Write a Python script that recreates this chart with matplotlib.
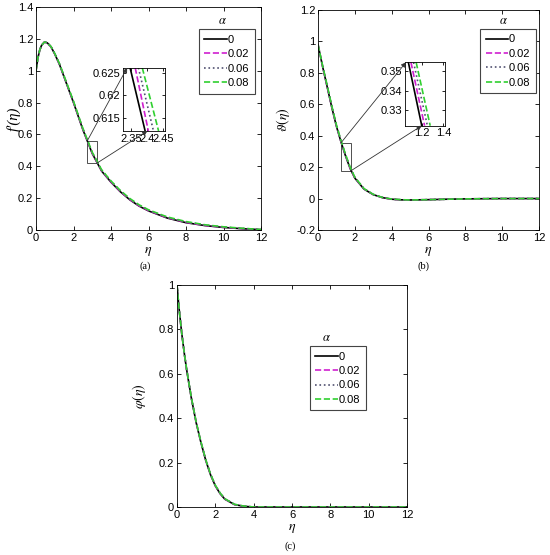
import matplotlib.pyplot as plt
from matplotlib.patches import Rectangle, ConnectionPatch
from matplotlib.ticker import FuncFormatter

plt.rcParams['font.family'] = ['Liberation Sans', 'DejaVu Sans']
plt.rcParams['mathtext.fontset'] = 'stix'
plt.rcParams['axes.unicode_minus'] = False

# legend entries / styles
alphas = ['0', '0.02', '0.06', '0.08']
colors = ['black', '#d020d0', '#505070', '#30d030']
styles = ['-', '--', ':', '--']

# (a) velocity f'(eta)
eta_a = [0, 0.1, 0.2, 0.3, 0.45, 0.6, 0.8, 1.0, 1.25, 1.5, 1.75, 2.0, 2.5, 3.0, 3.5,
         4.0, 4.5, 5.0, 5.5, 6.0, 7.0, 8.0, 9.0, 10.0, 11.0, 12.0]
fp_0 = [1.0, 1.08, 1.13, 1.16, 1.18, 1.175, 1.15, 1.105, 1.04, 0.96, 0.88, 0.80, 0.63, 0.48, 0.37,
        0.30, 0.24, 0.19, 0.15, 0.12, 0.075, 0.046, 0.028, 0.016, 0.008, 0.002]
fp_1 = [1.0, 1.08, 1.13, 1.16, 1.18, 1.175, 1.15, 1.106, 1.041, 0.962, 0.882, 0.802, 0.632, 0.482, 0.372,
        0.302, 0.242, 0.192, 0.152, 0.122, 0.077, 0.048, 0.029, 0.017, 0.009, 0.002]
fp_2 = [1.0, 1.08, 1.13, 1.16, 1.18, 1.176, 1.151, 1.107, 1.043, 0.964, 0.884, 0.805, 0.635, 0.485, 0.375,
        0.305, 0.245, 0.195, 0.155, 0.124, 0.079, 0.050, 0.031, 0.018, 0.010, 0.003]
fp_3 = [1.0, 1.08, 1.13, 1.16, 1.18, 1.176, 1.152, 1.108, 1.045, 0.966, 0.887, 0.808, 0.638, 0.488, 0.378,
        0.308, 0.248, 0.198, 0.158, 0.127, 0.082, 0.053, 0.033, 0.020, 0.011, 0.003]

# (a) zoom-in
ins_a_y = [0.6262, 0.612]
ins_a_x0 = [2.346, 2.393]
ins_a_x1 = [2.362, 2.403]
ins_a_x2 = [2.372, 2.419]
ins_a_x3 = [2.384, 2.435]

# (b) temperature theta(eta)
eta_b = [0, 0.25, 0.5, 0.75, 1.0, 1.25, 1.5, 1.75, 2.0, 2.5, 3.0, 3.5, 4.0, 4.5, 5.0,
         6.0, 7.0, 8.0, 10.0, 12.0]
th_0 = [0.98, 0.84, 0.71, 0.58, 0.46, 0.36, 0.27, 0.19, 0.13, 0.06, 0.025, 0.006, -0.004, -0.008, -0.009,
        -0.007, -0.004, -0.002, 0.0, 0.0]
th_1 = [0.98, 0.842, 0.713, 0.583, 0.463, 0.363, 0.273, 0.193, 0.132, 0.061, 0.026, 0.006, -0.004, -0.008, -0.009,
        -0.007, -0.004, -0.002, 0.0, 0.0]
th_2 = [0.98, 0.844, 0.716, 0.586, 0.466, 0.366, 0.276, 0.196, 0.134, 0.062, 0.026, 0.007, -0.003, -0.008, -0.009,
        -0.007, -0.004, -0.002, 0.0, 0.0]
th_3 = [0.98, 0.846, 0.719, 0.589, 0.469, 0.369, 0.279, 0.199, 0.136, 0.063, 0.027, 0.007, -0.003, -0.007, -0.009,
        -0.007, -0.004, -0.002, 0.0, 0.0]

# (b) zoom-in
ins_b_y = [0.3545, 0.322]
ins_b_x0 = [1.076, 1.200]
ins_b_x1 = [1.100, 1.226]
ins_b_x2 = [1.124, 1.252]
ins_b_x3 = [1.148, 1.278]

# (c) concentration phi(eta)
eta_c = [0, 0.1, 0.25, 0.4, 0.5, 0.75, 1.0, 1.25, 1.5, 1.75, 2.0, 2.25, 2.5, 3.0, 3.5, 4.0, 6.0, 8.0, 10.0, 12.0]
ph_0 = [1.0, 0.90, 0.78, 0.68, 0.62, 0.49, 0.38, 0.29, 0.21, 0.145, 0.095, 0.06, 0.035, 0.011, 0.003, 0.0,
        0.0, 0.0, 0.0, 0.0]
ph_1 = [1.0, 0.90, 0.78, 0.68, 0.62, 0.49, 0.381, 0.291, 0.211, 0.146, 0.096, 0.061, 0.036, 0.011, 0.003, 0.0,
        0.0, 0.0, 0.0, 0.0]
ph_2 = [1.0, 0.90, 0.781, 0.681, 0.621, 0.491, 0.382, 0.292, 0.212, 0.147, 0.097, 0.062, 0.036, 0.012, 0.003, 0.0,
        0.0, 0.0, 0.0, 0.0]
ph_3 = [1.0, 0.90, 0.781, 0.681, 0.622, 0.492, 0.383, 0.293, 0.213, 0.148, 0.098, 0.063, 0.037, 0.012, 0.004, 0.0,
        0.0, 0.0, 0.0, 0.0]

W, H = 550, 555
fig = plt.figure(figsize=(W / 100, H / 100), dpi=100)
fmt = FuncFormatter(lambda v, p: f'{v:g}')


def axes_px(l, t, r, b):
    return fig.add_axes([l / W, 1 - b / H, (r - l) / W, (b - t) / H])


def style(ax, size=8):
    ax.tick_params(direction='in', top=True, right=True, length=3, width=0.6, labelsize=size, pad=2)
    for s in ax.spines.values():
        s.set_linewidth(0.6)
    ax.xaxis.set_major_formatter(fmt)
    ax.yaxis.set_major_formatter(fmt)


def draw(ax, x, ys):
    for y, c, ls, lab in zip(ys, colors, styles, alphas):
        ax.plot(x, y, color=c, ls=ls, lw=1.2, label=lab)


def legend(ax, x, y, tx, ty):
    leg = ax.legend(loc='upper left', bbox_to_anchor=(x, y), borderaxespad=0, fontsize=8,
                    handlelength=2.0, handletextpad=0.1, labelspacing=0.4, borderpad=0.5,
                    fancybox=False, framealpha=1, edgecolor='#444444')
    leg.get_frame().set_linewidth(0.8)
    ax.text(tx, ty, r'$\alpha$', transform=ax.transAxes, ha='center', va='center', fontsize=9)


def arrow(ax_a, xy_a, ax_b, xy_b):
    con = ConnectionPatch(xyA=xy_a, coordsA=ax_a.transData, xyB=xy_b, coordsB=ax_b.transData,
                          arrowstyle='-|>', mutation_scale=7, lw=0.6, color='#333333')
    fig.add_artist(con)


# ---- (a)
ax = axes_px(36, 7, 261, 230)
draw(ax, eta_a, [fp_0, fp_1, fp_2, fp_3])
ax.set_xlim(0, 12)
ax.set_ylim(0, 1.4)
ax.set_xticks(range(0, 13, 2))
ax.set_yticks([0, 0.2, 0.4, 0.6, 0.8, 1, 1.2, 1.4])
ax.set_xlabel(r'$\eta$', fontsize=10, labelpad=1)
ax.set_ylabel('f\u2032(\u03b7)', family='Liberation Serif', style='italic', fontsize=10.5)
ax.yaxis.set_label_coords(-0.068, 0.5)
style(ax)
legend(ax, 0.724, 0.90, 0.83, 0.937)
ax.add_patch(Rectangle((2.74, 0.419), 0.5, 0.142, fill=False, lw=0.6, ec='#333333'))

ins = axes_px(122.7, 67.7, 165, 131)
for xs, c, ls in zip([ins_a_x0, ins_a_x1, ins_a_x2, ins_a_x3], colors, styles):
    ins.plot(xs, ins_a_y, color=c, ls=ls, lw=1.2)
ins.set_xlim(2.323, 2.455)
ins.set_ylim(0.612, 0.6262)
ins.set_xticks([2.35, 2.4, 2.45])
ins.set_yticks([0.615, 0.62, 0.625])
style(ins)
ins.tick_params(length=2)
arrow(ax, (2.74, 0.561), ins, (2.337, 0.6262))
arrow(ax, (3.24, 0.419), ins, (2.400, 0.612))

# ---- (b)
ax = axes_px(318, 10, 539, 230)
draw(ax, eta_b, [th_0, th_1, th_2, th_3])
ax.set_xlim(0, 12)
ax.set_ylim(-0.2, 1.2)
ax.set_xticks(range(0, 13, 2))
ax.set_yticks([-0.2, 0, 0.2, 0.4, 0.6, 0.8, 1, 1.2])
ax.set_xlabel(r'$\eta$', fontsize=10, labelpad=1)
ax.set_ylabel(r'$\vartheta(\eta)$', fontsize=10)
ax.yaxis.set_label_coords(-0.118, 0.5)
style(ax)
legend(ax, 0.733, 0.914, 0.84, 0.95)
ax.add_patch(Rectangle((1.25, 0.177), 0.54, 0.178, fill=False, lw=0.6, ec='#333333'))

ins = axes_px(405, 62.3, 445, 125.7)
for xs, c, ls in zip([ins_b_x0, ins_b_x1, ins_b_x2, ins_b_x3], colors, styles):
    ins.plot(xs, ins_b_y, color=c, ls=ls, lw=1.2)
ins.set_xlim(1.045, 1.415)
ins.set_ylim(0.322, 0.3545)
ins.set_xticks([1.2, 1.4])
ins.set_yticks([0.33, 0.34, 0.35])
style(ins)
ins.tick_params(length=2)
arrow(ax, (1.25, 0.355), ins, (1.054, 0.3545))
arrow(ax, (1.79, 0.177), ins, (1.2, 0.322))

# ---- (c)
ax = axes_px(177, 285, 407, 507)
draw(ax, eta_c, [ph_0, ph_1, ph_2, ph_3])
ax.set_xlim(0, 12)
ax.set_ylim(0, 1)
ax.set_xticks(range(0, 13, 2))
ax.set_yticks([0, 0.2, 0.4, 0.6, 0.8, 1])
ax.set_xlabel(r'$\eta$', fontsize=10, labelpad=1)
ax.set_ylabel(r'$\varphi(\eta)$', fontsize=10)
ax.yaxis.set_label_coords(-0.126, 0.5)
style(ax)
legend(ax, 0.578, 0.725, 0.65, 0.76)

for x, y, s in [(145, 266, '(a)'), (424, 266, '(b)'), (290, 546, '(c)')]:
    fig.text(x / W, 1 - y / H, s, ha='center', va='center', family='Liberation Serif', fontsize=7.5)

fig.savefig('out.png', dpi=100)
